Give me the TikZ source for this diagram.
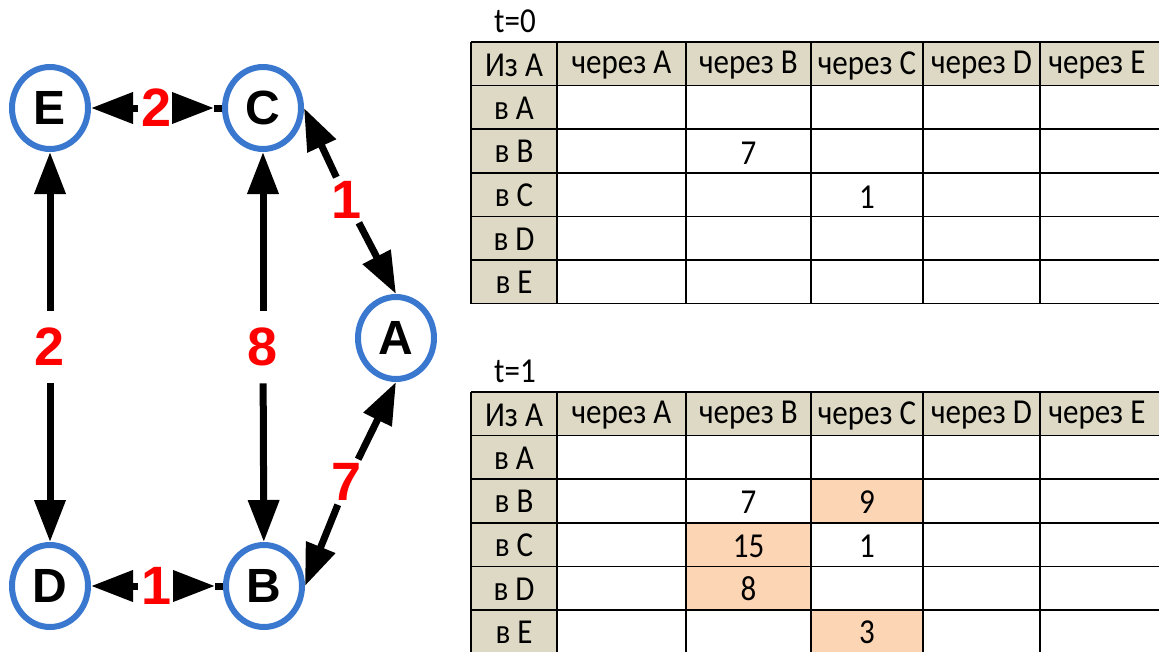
\documentclass[tikz,border=0pt]{standalone}
\usepackage{fontspec}
\setmainfont{Carlito}
\newfontfamily\gfont{Liberation Sans}
\usetikzlibrary{arrows.meta,shapes.geometric}
\definecolor{ringblue}{RGB}{58,120,208}
\definecolor{hdrtan}{RGB}{221,217,196}
\definecolor{peach}{RGB}{252,213,180}
\newcommand\st[1]{\scalebox{1}[1.13]{#1}}
\newcommand\mytable[2]{%
  \fill[hdrtan] (471,#1) rectangle (1170,#1+43.6);
  \fill[hdrtan] (471,#1) rectangle (557,#1+6*43.6);
  \foreach \r in {0,...,6} {\draw[grid] (471,#1+\r*43.6) -- (1170,#1+\r*43.6);}
  \foreach \c in {471,557,686,811,923,1040} {\draw[grid] (\c,#1) -- (\c,#1+6*43.6);}
  \foreach \t [count=\i] in {Из A,через A,через B,через C,через D,через E} {%
    \pgfmathsetmacro\cx{{514,621.5,748.5,867,981.5,1097}[\i-1]}
    \node[cell] (#2h\i) at (\cx,#1+23.5) {\st{\t}};}
  \foreach \t [count=\i] in {в A,в B,в C,в D,в E} {%
    \node[cell] (#2r\i) at (514,#1+\i*43.6+22.5) {\st{\t}};}
}
\begin{document}
\begin{tikzpicture}[x=1pt,y=-1pt,
  vtx/.style={ellipse,draw=ringblue,line width=6pt,minimum width=76pt,minimum height=82pt,inner sep=0pt,
    font=\gfont\bfseries\fontsize{48}{48}\selectfont},
  lbl/.style={text=red,inner xsep=4pt,inner ysep=4pt,font=\gfont\bfseries\fontsize{54}{54}\selectfont},
  edg/.style={line width=7pt,-{Triangle[length=42pt,width=30pt]}},
  ln/.style={line width=7pt},
  grid/.style={line width=1.6pt,black},
  cell/.style={font=\fontsize{31}{31}\selectfont,inner sep=0pt},
  ]
\useasboundingbox (0,0) rectangle (1159,651);
\clip (0,0) rectangle (1159,651);
% graph
\node[vtx] (E) at (50,108) {E};
\node[vtx] (C) at (263,108) {C};
\node[vtx] (A) at (396,338) {A};
\node[vtx] (D) at (50,586) {D};
\node[vtx] (B) at (264,586) {B};
\node[lbl,inner ysep=17pt] (lED) at (50,347) {2};
\node[lbl,inner ysep=17pt] (lCB) at (263,347) {8};
\node[lbl] (lEC) at (157,108) {2};
\node[lbl] (lDB) at (157,586) {1};
\node[lbl] (lCA) at (347,200) {1};
\node[lbl] (lAB) at (347,482) {7};
\coordinate (ecTip) at (214,108);
\coordinate (dbTip) at (215,586);
\draw[edg] (lED) -- (E);
\draw[edg] (lED) -- (D);
\draw[edg] (lCB) -- (C);
\draw[edg] (lCB) -- (B);
\draw[edg] (lEC.west) -- (E.east);
\draw[edg] (lEC.east) -- (ecTip);
\draw[ln] (ecTip) -- (C.west);
\draw[edg] (lDB.west) -- (D.east);
\draw[edg] (lDB.east) -- (dbTip);
\draw[ln] (dbTip) -- (B.west);
\draw[edg] (lCA) -- (C.east);
\draw[edg] (lCA) -- (A.north);
\draw[edg] (lAB) -- (A.south);
\draw[edg] (lAB) -- (B.east);
% table t=0
\node[cell] (t0) at (515,21) {\st{t=0}};
\mytable{42}{a}
\node[cell] (a22) at (748.5,153) {\st{7}};
\node[cell] (a33) at (867,197) {\st{1}};
% table t=1
\node[cell] (t1) at (515,371) {\st{t=1}};
\fill[peach] (811,479.2) rectangle (923,522.8);
\fill[peach] (686,522.8) rectangle (811,610);
\fill[peach] (811,610) rectangle (923,654);
\mytable{392}{b}
\node[cell] (b22) at (748.5,502) {\st{7}};
\node[cell] (b23) at (867,502) {\st{9}};
\node[cell] (b32) at (748.5,546) {\st{15}};
\node[cell] (b33) at (867,546) {\st{1}};
\node[cell] (b42) at (748.5,589) {\st{8}};
\node[cell] (b53) at (867,632) {\st{3}};
\end{tikzpicture}
\end{document}
